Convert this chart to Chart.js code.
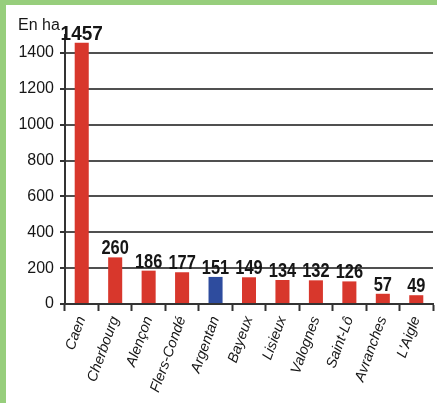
<!DOCTYPE html>
<html lang="fr">
<head>
<meta charset="utf-8">
<title>Surfaces en ha</title>
<script src="https://cdn.jsdelivr.net/npm/chart.js@4/dist/chart.umd.min.js"></script>
<style>
    html, body { margin: 0; padding: 0; background: #fff; }
    .frame {
        width: 431px;
        height: 398px;
        border-left: 6px solid #97ce7c;
        border-top: 5px solid #97ce7c;
        position: relative;
    }
    canvas { display: block; }
</style>
</head>
<body>
<div class="frame">
    <canvas id="chart" width="431" height="398"></canvas>
</div>
<script>
    const cities = ['Caen', 'Cherbourg', 'Alençon', 'Flers-Condé', 'Argentan', 'Bayeux',
        'Lisieux', 'Valognes', 'Saint-Lô', 'Avranches', "L'Aigle"];
    const surfaces = [1457, 260, 186, 177, 151, 149, 134, 132, 126, 57, 49];
    const highlight = 'Argentan';
    const yTicks = [0, 200, 400, 600, 800, 1000, 1200, 1400];
    const unitLabel = 'En ha';

    const RED = '#d8372c';
    const BLUE = '#2e4c9e';
    const AXIS = '#333';
    const TEXT = '#161616';

    // values above bars + unit label
    const valueLabels = {
        id: 'valueLabels',
        afterDatasetsDraw(chart) {
            const { ctx, chartArea } = chart;
            const meta = chart.getDatasetMeta(0);
            ctx.save();
            ctx.fillStyle = TEXT;
            ctx.font = "bold 20px 'Liberation Sans', Arial, sans-serif";
            ctx.textAlign = 'center';
            ctx.textBaseline = 'alphabetic';
            meta.data.forEach((bar, i) => {
                const txt = String(surfaces[i]);
                ctx.save();
                ctx.translate(bar.x, bar.y - 3);
                ctx.scale(txt.length > 3 ? 0.95 : 0.82, 1);
                ctx.fillText(txt, 0, 0);
                ctx.restore();
            });
            ctx.font = "16px 'Liberation Sans', Arial, sans-serif";
            ctx.textAlign = 'left';
            ctx.fillText(unitLabel, 12, chartArea.top - 5);
            ctx.restore();
        },
    };

    new Chart(document.getElementById('chart').getContext('2d'), {
        type: 'bar',
        data: {
            labels: cities,
            datasets: [{
                data: surfaces,
                backgroundColor: cities.map((c) => (c === highlight ? BLUE : RED)),
                borderWidth: 0,
                barPercentage: 0.42,
                categoryPercentage: 1,
            }],
        },
        options: {
            responsive: false,
            animation: false,
            layout: { padding: { top: 30, right: 4, left: 0, bottom: 0 } },
            plugins: {
                legend: { display: false },
                tooltip: { enabled: false },
            },
            scales: {
                x: {
                    offset: true,
                    grid: {
                        offset: true,
                        drawOnChartArea: false,
                        drawTicks: true,
                        tickLength: 7,
                        tickWidth: 2,
                        tickColor: AXIS,
                    },
                    border: { display: true, color: AXIS, width: 2 },
                    ticks: {
                        autoSkip: false,
                        minRotation: 70,
                        maxRotation: 70,
                        padding: 3,
                        color: TEXT,
                        font: { family: "'Liberation Sans', Arial, sans-serif", size: 14.5, style: 'italic' },
                    },
                    afterFit(scale) {
                        scale.height = 99;
                        scale.paddingLeft = 0;
                        scale.paddingRight = 0;
                    },
                },
                y: {
                    min: 0,
                    max: 1500,
                    afterBuildTicks(scale) {
                        scale.ticks = yTicks.map((v) => ({ value: v }));
                    },
                    grid: {
                        color: '#505050',
                        lineWidth: 2,
                        tickLength: 5,
                        tickColor: AXIS,
                    },
                    border: { display: true, color: AXIS, width: 2 },
                    ticks: {
                        padding: 6,
                        color: TEXT,
                        font: { family: "'Liberation Sans', Arial, sans-serif", size: 16 },
                        callback: (value) => String(value),
                    },
                    afterFit(scale) {
                        scale.width = 59;
                        scale.paddingTop = 0;
                        scale.paddingBottom = 0;
                    },
                },
            },
        },
        plugins: [valueLabels],
    });
</script>
</body>
</html>
